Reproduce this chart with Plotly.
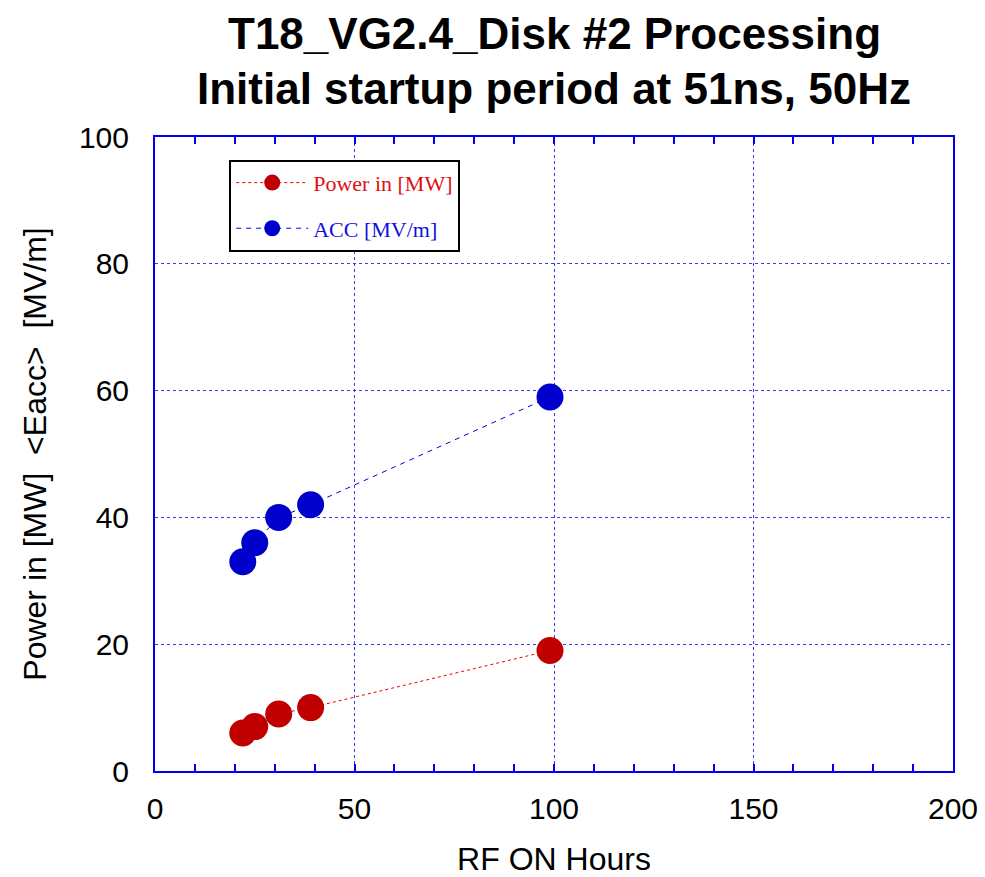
import plotly.graph_objects as go

# RF processing history: hours of RF-on time vs. input power and gradient
rf_hours = [22, 25, 31, 39, 99]
power_in_mw = [6, 7, 9, 10, 19]
acc_mv_per_m = [33, 36, 40, 42, 59]

x_ticks = [0, 50, 100, 150, 200]
y_ticks = [0, 20, 40, 60, 80, 100]

title_lines = ["T18_VG2.4_Disk #2 Processing", "Initial startup period at 51ns, 50Hz"]

AXIS_BLUE = "#0000ee"
GRID_BLUE = "#3a3aee"
RED = "#c00000"
BLUE = "#0000cc"

fig = go.Figure()

fig.add_trace(go.Scatter(
    x=rf_hours, y=power_in_mw, legendgroup="power",
    name="<span style='color:#dd1111'>Power in [MW]</span>",
    mode="lines+markers",
    line=dict(color="#ee0000", width=1, dash="dot"),
    marker=dict(color=RED, size=27),
))
fig.add_trace(go.Scatter(
    x=rf_hours, y=acc_mv_per_m, legendgroup="acc",
    name="<span style='color:#1111dd'>ACC [MV/m]</span>",
    mode="lines+markers",
    line=dict(color="#0000dd", width=1, dash="5px,5px"),
    marker=dict(color=BLUE, size=27),
))

title_font = dict(family="Liberation Sans Narrow, Liberation Sans, Arial", size=44, color="black")
for text, ypos in zip(title_lines, [1.164, 1.077]):
    fig.add_annotation(
        text=f"<b>{text}</b>", xref="paper", yref="paper",
        x=0.5, y=ypos, xanchor="center", yanchor="middle",
        showarrow=False, font=title_font,
    )

fig.update_layout(
    width=985, height=877,
    margin=dict(l=155, r=32, t=137, b=106),
    paper_bgcolor="white", plot_bgcolor="white",
    legend=dict(
        x=0.093, y=0.964, xanchor="left", yanchor="top",
        bgcolor="white", bordercolor="black", borderwidth=2,
        font=dict(family="Liberation Serif, DejaVu Serif", size=22),
        itemwidth=72, tracegroupgap=14,
    ),
    showlegend=True,
)

fig.update_xaxes(
    range=[0, 200], tickvals=x_ticks, ticktext=[str(v) for v in x_ticks],
    automargin=False,
    showline=True, linecolor=AXIS_BLUE, linewidth=2, mirror="ticks",
    ticks="inside", ticklen=7, tickcolor=AXIS_BLUE, tickwidth=1.5,
    minor=dict(dtick=10, ticks="inside", ticklen=7, tickcolor=AXIS_BLUE, tickwidth=1.5, showgrid=False),
    showgrid=True, gridcolor=GRID_BLUE, gridwidth=1, griddash="3px,3px",
    zeroline=False, ticklabelstandoff=10,
    tickfont=dict(family="Liberation Sans, Arial", size=30, color="black"),
    title=dict(text="RF ON Hours", standoff=26,
               font=dict(family="Liberation Sans, Arial", size=32, color="black")),
)
fig.update_yaxes(
    range=[0, 100], tickvals=y_ticks, ticktext=[str(v) for v in y_ticks],
    automargin=False,
    showline=True, linecolor=AXIS_BLUE, linewidth=2, mirror=True,
    ticks="", ticklabelstandoff=18,
    showgrid=True, gridcolor=GRID_BLUE, gridwidth=1, griddash="3px,3px",
    zeroline=False,
    tickfont=dict(family="Liberation Sans, Arial", size=30, color="black"),
    title=dict(text="Power in [MW]  &lt;Eacc&gt;  [MV/m]", standoff=23,
               font=dict(family="Liberation Sans, Arial", size=32, color="black")),
)

fig.write_html("out.html")
